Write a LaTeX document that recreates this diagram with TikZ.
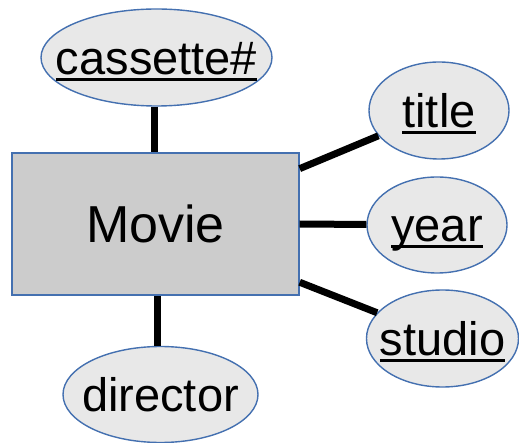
\documentclass[tikz,border=0pt]{standalone}
\usepackage{fontspec}
\setmainfont{Liberation Sans}
\usetikzlibrary{shapes.geometric}
\definecolor{edgeblue}{HTML}{4470B0}
\definecolor{attrfill}{HTML}{E8E8E8}
\definecolor{entfill}{HTML}{CCCCCC}
\newcommand\myul[1]{\setbox0\hbox{#1}\rlap{\rule[-6.5pt]{\wd0}{3pt}}\box0}
\newcommand\attrtxt[1]{\smash{\raisebox{-16.8pt}{\makebox[0pt]{#1}}}}
\tikzset{
  attr/.style={ellipse, draw=edgeblue, line width=1.4pt, fill=attrfill, inner sep=0pt,
    font=\fontsize{47}{50}\selectfont},
  entity/.style={rectangle, draw=edgeblue, line width=1.4pt, fill=entfill, inner sep=0pt,
    font=\fontsize{52}{56}\selectfont},
  link/.style={line width=7pt, black}
}
\begin{document}
\begin{tikzpicture}[x=1pt,y=-1pt]
\useasboundingbox (0,0) rectangle (519,443);
\node[entity, minimum width=287pt, minimum height=142pt] (movie) at (155.5,224) {\smash{\raisebox{-18.8pt}{\makebox[0pt]{Movie}}}};
\node[attr, minimum width=231pt, minimum height=97pt] (cas) at (156.5,57.5) {\attrtxt{\myul{cassette\#}}};
\node[attr, minimum width=140pt, minimum height=97pt] (title) at (439,110.5) {\attrtxt{\myul{title}}};
\node[attr, minimum width=140pt, minimum height=96pt] (year) at (437,225) {\attrtxt{\myul{year}}};
\node[attr, minimum width=152pt, minimum height=97pt] (studio) at (442.5,338.5) {\attrtxt{\myul{studio}}};
\node[attr, minimum width=195pt, minimum height=96pt] (dir) at (160.5,394.5) {\attrtxt{director}};
\draw[link] ([xshift=-2.5pt]cas.south) -- ([xshift=-2.5pt]cas.south |- movie.north);
\draw[link] (movie.21.7) -- (title);
\draw[link] (movie.east) -- (year);
\draw[link] (movie.-22) -- (studio);
\draw[link] ([xshift=-3.5pt]dir.north) -- ([xshift=-3.5pt]dir.north |- movie.south);
\end{tikzpicture}
\end{document}
